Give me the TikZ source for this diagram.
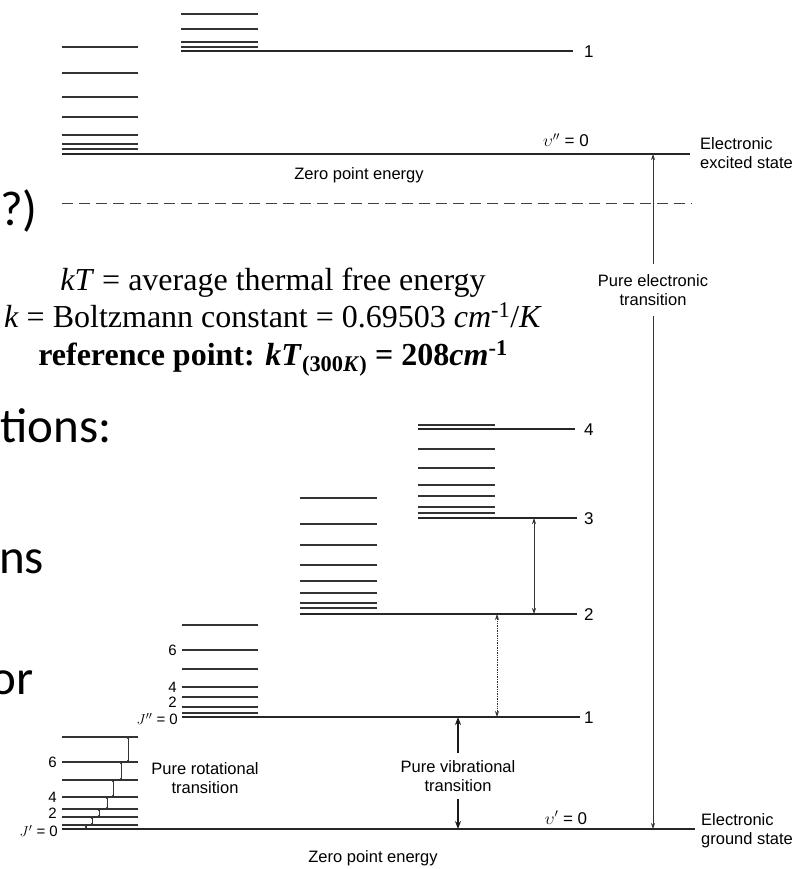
\documentclass[tikz,border=0pt]{standalone}
\usepackage{fontspec}
\setmainfont{Liberation Serif}
\newfontfamily\labelfont{Liberation Sans}
\newfontfamily\slidefont{Carlito}
\usetikzlibrary{arrows.meta}
\tikzset{
  lev/.style={line width=1.3pt,black!85},
  rung/.style={line width=1.1pt,black!80},
  trans/.style={line width=0.7pt,black!80,>={Stealth[length=6pt,width=4pt]}},
  rottrans/.style={line width=0.5pt,black!80,>={Stealth[length=2.2pt,width=2.4pt]}},
  vibbold/.style={line width=1.8pt,black!90,>={Stealth[length=8pt,width=6pt]}},
  lbl/.style={font=\labelfont\fontsize{16.5}{19.5}\selectfont,inner sep=0pt},
  jnum/.style={font=\labelfont\fontsize{15}{18}\selectfont,inner sep=0pt,anchor=east},
  num/.style={font=\labelfont\fontsize{17}{20}\selectfont,inner sep=0pt},
  slide/.style={font=\slidefont\fontsize{49}{58}\selectfont,anchor=base west,inner sep=0pt},
  note/.style={font=\fontsize{32}{38}\selectfont,anchor=base,inner sep=0pt}
}
\begin{document}
\begin{tikzpicture}[x=1pt,y=-1pt]
\useasboundingbox (0,0) rectangle (802,869);
% cut-off slide text
\node[slide] (q) at (0,225) {?)};
\node[slide] (tions) at (0,442) {tions:};
\node[slide] (ns) at (-1,573) {ns};
\node[slide] (or) at (-10,694) {or};
\node[note] (kTline) at (273,290) {\textit{kT} = average thermal free energy};
\node[note] (kline) at (273,327) {\textit{k} = Boltzmann constant = 0.69503 \textit{cm}\textsuperscript{-1}/\textit{K}};
\node[note] (refline) at (273,365) {\textbf{reference point: \textit{kT}\textsubscript{(300\textit{K})} = 208\textit{cm}\textsuperscript{-1}}};
% electronic excited state
\foreach \y in {47,73,97,117,135,144,149} \draw[rung] (62,\y) -- (138,\y);
\foreach \y in {14,29,42,47} \draw[rung] (181,\y) -- (258,\y);
\coordinate (ex0L) at (62,154); \coordinate (ex0R) at (690,154);
\coordinate (ex1L) at (181,51); \coordinate (ex1R) at (573,51);
\draw[lev] (ex0L) -- (ex0R);
\draw[lev] (ex1L) -- (ex1R);
\node[num,anchor=west] (e1) at (584,52) {1};
\node[num,anchor=base] (ev0) at (566,147) {$\upsilon''$ = 0};
\node[lbl,anchor=north west,align=left] (exc) at (700,137) {Electronic\\excited state};
\node[lbl] (zpe1) at (359,175) {Zero point energy};
\draw[line width=1pt,black!75,dash pattern=on 11pt off 6pt] (62,203) -- (692,203);
% electronic ground state
\foreach \y in {737,762,780,797,809,817,825} \draw[rung] (62,\y) -- (138,\y);
\foreach \y in {625,650,669,687,697,707,713} \draw[rung] (182,\y) -- (258,\y);
\foreach \y in {498,524,545,565,581,593,603,608} \draw[rung] (300,\y) -- (377,\y);
\foreach \y in {425,449,468,485,496,507,513} \draw[rung] (418,\y) -- (495,\y);
\coordinate (g0L) at (62,829); \coordinate (g0R) at (695,829);
\coordinate (g1L) at (182,717); \coordinate (g1R) at (580,717);
\coordinate (g2L) at (300,614); \coordinate (g2R) at (577,614);
\coordinate (g3L) at (418,518); \coordinate (g3R) at (577,518);
\coordinate (g4L) at (418,429); \coordinate (g4R) at (575,429);
\draw[lev] (g0L) -- (g0R);
\draw[lev] (g1L) -- (g1R);
\draw[lev] (g2L) -- (g2R);
\draw[lev] (g3L) -- (g3R);
\draw[lev] (g4L) -- (g4R);
\node[num,anchor=west] (n1) at (584,718) {1};
\node[num,anchor=west] (n2) at (584,615) {2};
\node[num,anchor=west] (n3) at (584,519) {3};
\node[num,anchor=west] (n4) at (584,430) {4};
\node[num,anchor=base] (gv0) at (566,824) {$\upsilon'$ = 0};
\node[lbl,anchor=north west,align=left] (gnd) at (701,813) {Electronic\\ground state};
\node[lbl] (zpe0) at (373,858) {Zero point energy};
% rotational quantum numbers
\node[jnum] (j6a) at (57,762) {6};
\node[jnum] (j4a) at (57,797) {4};
\node[jnum] (j2a) at (57,813) {2};
\node[jnum] (j0a) at (58,831) {$J'$ = 0};
\node[jnum] (j6b) at (177,650) {6};
\node[jnum] (j4b) at (177,687) {4};
\node[jnum] (j2b) at (177,702) {2};
\node[jnum] (j0b) at (178,719) {$J''$ = 0};
% transitions
\foreach \x/\ya/\yb in {128/737/762,121/762/780,113/780/797,107/797/809,99/809/817,92/817/825,86/825/829}
  \draw[rottrans,<->] (\x,\ya) -- (\x,\yb);
\node[lbl,align=center] (rot) at (205,778) {Pure rotational\\transition};
\coordinate (t12a) at (497,614); \coordinate (t12b) at (497,717);
\coordinate (t23a) at (534,518); \coordinate (t23b) at (534,614);
\draw[trans,densely dotted,<->] (t12a) -- (t12b);
\draw[trans,<->] (t23a) -- (t23b);
\node[lbl,align=center,inner sep=7pt] (vib) at (458,776) {Pure vibrational\\transition};
\coordinate (v1) at (458,717); \coordinate (v0) at (458,829);
\draw[vibbold,->] (vib) -- (v1);
\draw[vibbold,->] (vib) -- (v0);
\node[lbl,align=center,inner sep=10pt] (elec) at (653,290) {Pure electronic\\transition};
\coordinate (ex0) at (653,154); \coordinate (gr0) at (653,829);
\draw[trans,->] (elec) -- (ex0);
\draw[trans,->] (elec) -- (gr0);
\end{tikzpicture}
\end{document}
